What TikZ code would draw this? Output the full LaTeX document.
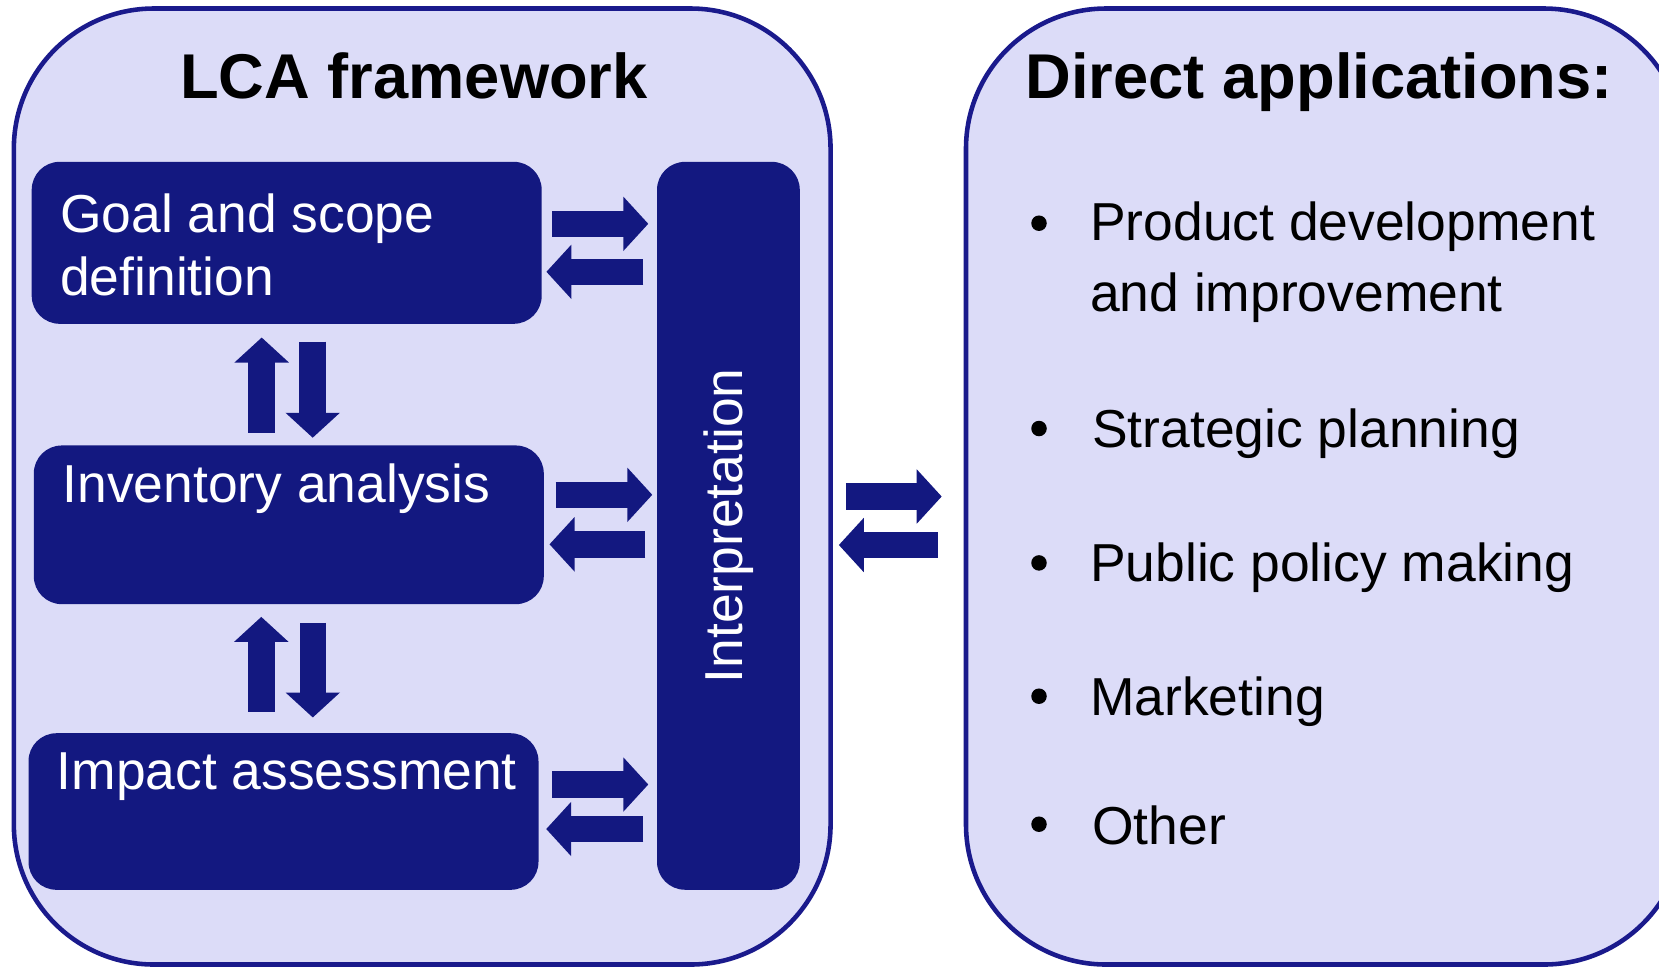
\documentclass[tikz,border=0pt]{standalone}
\usepackage{fontspec}
\setmainfont{Liberation Sans}
\usetikzlibrary{arrows.meta}
\definecolor{lcanavy}{RGB}{19,24,128}
\definecolor{lcaline}{RGB}{26,26,140}
\definecolor{lcafill}{RGB}{220,220,248}

\begin{document}
\begin{tikzpicture}[
  panel/.style={draw=lcaline, line width=1.3pt, fill=lcafill, rounded corners=1.4cm, minimum width=#1, minimum height=9.56cm, inner sep=0pt},
  stage/.style={fill=lcanavy, rounded corners=0.28cm, minimum width=5.1cm, minimum height=#1, inner sep=0pt},
  stagetext/.style={text=white, font=\fontsize{15.2}{18}\selectfont, inner sep=0pt, align=left},
  heading/.style={font=\fontsize{18}{22}\selectfont\bfseries, inner sep=0pt},
  apptext/.style={font=\fontsize{15.2}{20.2}\selectfont, inner sep=0pt, align=left},
  appbullet/.style={circle, fill=black, inner sep=0pt, minimum size=0.155cm},
  flow/.style={lcanavy, line width=0.265cm, -{Triangle[width=0.53cm, length=0.25cm]}}
]
\useasboundingbox (0,0) rectangle (16.59,-9.66);

\node[panel=8.167cm] (lca) at (4.222,-4.865) {};
\node[panel=7.18cm] (apps) at (13.25,-4.865) {};
\node[heading, anchor=base] (lcatitle) at (4.14,-0.984) {LCA framework};
\node[heading, anchor=base west] (appstitle) at (10.25,-0.984) {Direct applications:};

\node[stage=1.62cm] (goal) at (2.867,-2.428) {};
\node[stage=1.587cm] (inv) at (2.888,-5.248) {};
\node[stage=1.566cm] (impact) at (2.835,-8.115) {};
\node[fill=lcanavy, rounded corners=0.28cm, minimum width=1.428cm, minimum height=7.279cm, inner sep=0pt] (interp) at (7.284,-5.258) {};

\node[stagetext, anchor=north west] (goaltxt) at (0.595,-1.926) {Goal and scope\\definition};
\node[stagetext, anchor=base west] (invtxt) at (0.62,-5.026) {Inventory analysis};
\node[stagetext, anchor=base west] (impacttxt) at (0.56,-7.893) {Impact assessment};
\node[stagetext, rotate=90] (interptxt) at (interp.center) {Interpretation};

\draw[flow, shorten <=1mm, shorten >=0.8mm] ([yshift=1.9mm]goal.east) -- ([yshift=1.9mm]goal.east -| interp.west);
\draw[flow, shorten <=1.3mm, shorten >=0.4mm] ([yshift=-2.9mm]goal.east -| interp.west) -- ([yshift=-2.9mm]goal.east);
\draw[flow, shorten <=1.1mm, shorten >=0.4mm] ([yshift=3mm]inv.east) -- ([yshift=3mm]inv.east -| interp.west);
\draw[flow, shorten <=1.1mm, shorten >=0.5mm] ([yshift=-1.95mm]inv.east -| interp.west) -- ([yshift=-1.95mm]inv.east);
\draw[flow, shorten <=1.3mm, shorten >=0.8mm] ([yshift=2.7mm]impact.east) -- ([yshift=2.7mm]impact.east -| interp.west);
\draw[flow, shorten <=1.3mm, shorten >=0.7mm] ([yshift=-1.75mm]impact.east -| interp.west) -- ([yshift=-1.75mm]impact.east);

\draw[flow, shorten <=1.2mm, shorten >=1.3mm] ([xshift=-2.5mm]goal.south |- inv.north) -- ([xshift=-2.5mm]goal.south);
\draw[flow, shorten <=1.7mm, shorten >=0.7mm] ([xshift=2.6mm]goal.south) -- ([xshift=2.6mm]goal.south |- inv.north);
\draw[flow, shorten <=2.1mm, shorten >=1.2mm] ([xshift=-2.75mm]inv.south |- impact.north) -- ([xshift=-2.75mm]inv.south);
\draw[flow, shorten <=1.8mm, shorten >=1.5mm] ([xshift=2.4mm]inv.south) -- ([xshift=2.4mm]inv.south |- impact.north);

\draw[flow, shorten <=1.3mm, shorten >=2.2mm] ([yshift=-1mm]lca.east) -- ([yshift=-1mm]lca.east -| apps.west);
\draw[flow, shorten <=2.6mm, shorten >=0.6mm] ([yshift=-5.85mm]lca.east -| apps.west) -- ([yshift=-5.85mm]lca.east);

\node[appbullet] (b1) at (10.39,-2.232) {};
\node[appbullet] (b2) at (10.39,-4.285) {};
\node[appbullet] (b3) at (10.39,-5.629) {};
\node[appbullet] (b4) at (10.39,-6.962) {};
\node[appbullet] (b5) at (10.39,-8.242) {};
\node[apptext, anchor=north west] (app1) at (10.895,-2.01) {Product development\\and improvement};
\node[apptext, anchor=base west] (app2) at (10.915,-4.475) {Strategic planning};
\node[apptext, anchor=base west] (app3) at (10.895,-5.819) {Public policy making};
\node[apptext, anchor=base west] (app4) at (10.895,-7.152) {Marketing};
\node[apptext, anchor=base west] (app5) at (10.915,-8.443) {Other};
\end{tikzpicture}
\end{document}
